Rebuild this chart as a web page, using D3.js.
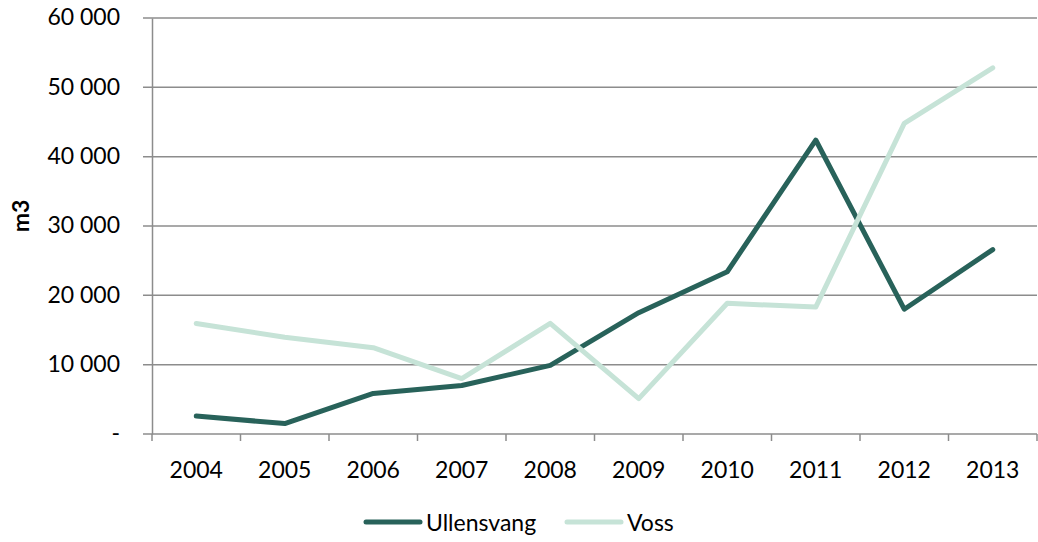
<!DOCTYPE html>
<html>
<head>
<meta charset="utf-8">
<script src="https://cdn.jsdelivr.net/npm/d3@7"></script>
<style>
  body { margin: 0; background: #fff; }
  text { font-family: Lato, "Open Sans", sans-serif; fill: #000; }
</style>
</head>
<body>
<script>
// data
var years = ["2004", "2005", "2006", "2007", "2008", "2009", "2010", "2011", "2012", "2013"];
var ullensvang = [2600, 1500, 5850, 7000, 9900, 17500, 23400, 42400, 18000, 26600];
var voss = [15950, 13950, 12450, 8000, 15950, 5100, 18850, 18300, 44800, 52800];
var yTicks = [0, 10000, 20000, 30000, 40000, 50000, 60000];

var seriesNames = ["Ullensvang", "Voss"];
var colors = ["#28625a", "#c6e3d7"];

// dimensions
var margin = {top: 18, right: 1, bottom: 108, left: 152},
    width = 1038 - margin.left - margin.right,
    height = 542 - margin.top - margin.bottom;

var svg = d3.select("body").append("svg")
    .attr("width", 1038)
    .attr("height", 542)
    .append("g")
    .attr("transform", "translate(" + margin.left + "," + margin.top + ")");

// scales
var x = d3.scaleBand().domain(years).range([0, width]);
var y = d3.scaleLinear().domain([0, 60000]).range([height, 0]);

var fmt = function(d) {
    return d === 0 ? "-" : d3.format(",")(d).replace(/,/g, " ");
};

// gridlines
svg.append("g")
    .selectAll("line")
    .data(yTicks)
    .enter().append("line")
    .attr("x1", -9)
    .attr("x2", width)
    .attr("y1", function(d) { return y(d); })
    .attr("y2", function(d) { return y(d); })
    .attr("stroke", "#8c8c8c")
    .attr("stroke-width", 1.5);

// y axis
var yAxis = svg.append("g")
    .call(d3.axisLeft(y).tickValues(yTicks).tickFormat(fmt).tickSize(0).tickPadding(32));
yAxis.select(".domain").attr("stroke", "#8c8c8c").attr("stroke-width", 1.5);
yAxis.selectAll("text").style("font-size", "23px").attr("dy", "0.3em");

// x axis (ticks at category boundaries)
var xg = svg.append("g").attr("transform", "translate(0," + height + ")");
xg.selectAll("line.tick")
    .data(d3.range(years.length + 1))
    .enter().append("line")
    .attr("x1", function(i) { return i * x.bandwidth(); })
    .attr("x2", function(i) { return i * x.bandwidth(); })
    .attr("y1", 0)
    .attr("y2", 7)
    .attr("stroke", "#8c8c8c")
    .attr("stroke-width", 1.5);
xg.selectAll("text")
    .data(years)
    .enter().append("text")
    .attr("x", function(d) { return x(d) + x.bandwidth() / 2; })
    .attr("y", 44)
    .attr("text-anchor", "middle")
    .style("font-size", "23px")
    .text(function(d) { return d; });

// y axis label
svg.append("text")
    .attr("transform", "rotate(-90)")
    .attr("x", -(height / 2) + 10)
    .attr("y", -123)
    .attr("text-anchor", "middle")
    .style("font-size", "23px")
    .style("font-weight", "bold")
    .text("m3");

// lines
var line = d3.line()
    .x(function(d, i) { return x(years[i]) + x.bandwidth() / 2; })
    .y(function(d) { return y(d); });

[ullensvang, voss].forEach(function(s, k) {
    svg.append("path")
        .datum(s)
        .attr("fill", "none")
        .attr("stroke", colors[k])
        .attr("stroke-width", 5)
        .attr("stroke-linejoin", "round")
        .attr("stroke-linecap", "round")
        .attr("d", line);
});

// legend
var legendX = [366, 567];
var legend = d3.select("svg").append("g");
seriesNames.forEach(function(name, k) {
    legend.append("line")
        .attr("x1", legendX[k])
        .attr("x2", legendX[k] + 54)
        .attr("y1", 522)
        .attr("y2", 522)
        .attr("stroke", colors[k])
        .attr("stroke-width", 5)
        .attr("stroke-linecap", "round");
    legend.append("text")
        .attr("x", legendX[k] + 60)
        .attr("y", 531)
        .style("font-size", "23px")
        .text(name);
});
</script>
</body>
</html>
